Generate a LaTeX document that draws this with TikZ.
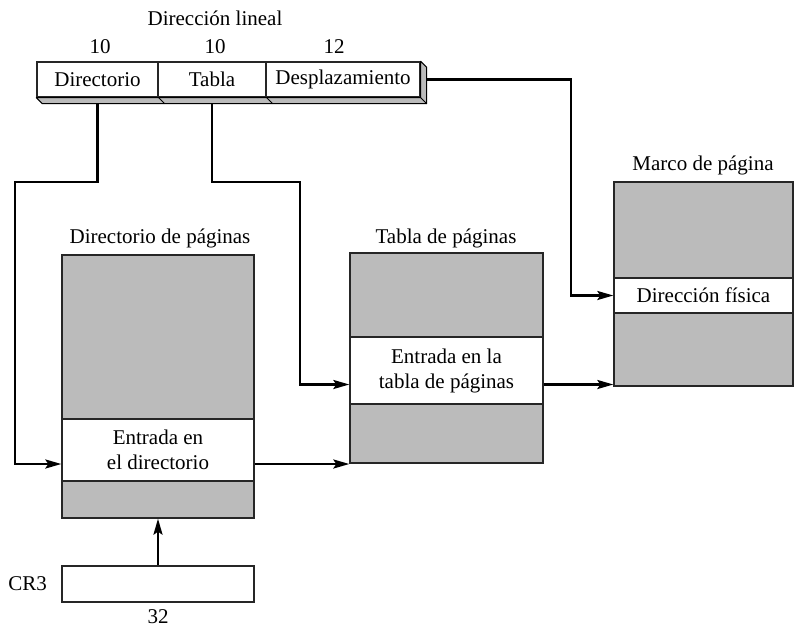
\documentclass[tikz,border=0pt]{standalone}
\usepackage{fontspec}
\setmainfont{Liberation Serif}
\usetikzlibrary{arrows.meta,calc}
\pgfdeclarelayer{background}
\pgfsetlayers{background,main}
\begin{document}
\begin{tikzpicture}[x=1pt,y=-1pt,
  every node/.style={font=\fontsize{21}{25}\selectfont},
  graybox/.style={draw=black!85,line width=1.3pt,fill=gray!55,inner sep=0pt},
  whitebox/.style={draw=black!85,line width=1.3pt,fill=white,inner sep=0pt,align=center},
  conn/.style={line width=2.5pt,-{Stealth[length=16pt,width=9pt,inset=3pt]}},
  lbl/.style={inner sep=0pt}
]
\useasboundingbox (0,0) rectangle (795,627);
\definecolor{shade}{RGB}{187,187,187}
\tikzset{graybox/.append style={fill=shade}}

% linear address
\node[lbl] (tlin) at (215,18) {Dirección lineal};
\node[whitebox,minimum width=121pt,minimum height=35pt] (seg1) at (97.5,79.5) {Directorio};
\node[whitebox,minimum width=108pt,minimum height=35pt] (seg2) at (212,79.5) {Tabla};
\node[whitebox,minimum width=154pt,minimum height=35pt] (seg3) at (343,79.5) {Desplazamiento};
\node[lbl] (n1) at (100,47) {10};
\node[lbl] (n2) at (215,47) {10};
\node[lbl] (n3) at (334,47) {12};
% 3D shadow
\draw[line width=1pt,fill=shade,line join=round] (seg1.south west) -- ++(6,6) -- ($(seg3.south east)+(6,6)$) -- ($(seg3.north east)+(6,6)$) -- (seg3.north east) -- (seg3.south east) -- cycle;
\draw[line width=1pt] (seg3.south east) -- ++(6,6);
\draw[line width=1pt] (seg1.south east) -- ++(6,6);
\draw[line width=1pt] (seg2.south east) -- ++(6,6);

% page directory
\node[graybox,minimum width=192pt,minimum height=263pt] (pdir) at (158,386.5) {};
\node[whitebox,minimum width=192pt,minimum height=62pt] (pdirE) at (158,450) {Entrada en\\el directorio};
\node[lbl] (tdir) at (160,238) {Directorio de páginas};

% page table
\node[graybox,minimum width=193pt,minimum height=210pt] (ptab) at (446.5,358) {};
\node[whitebox,minimum width=193pt,minimum height=67pt] (ptabE) at (446.5,370.5) {Entrada en la\\tabla de páginas};
\node[lbl] (ttab) at (446,238) {Tabla de páginas};

% page frame
\node[graybox,minimum width=179pt,minimum height=204pt] (frame) at (703.5,284) {};
\node[whitebox,minimum width=179pt,minimum height=35pt] (frameE) at (703.5,295.5) {Dirección física};
\node[lbl] (tfr) at (703,165) {Marco de página};

% CR3
\node[whitebox,minimum width=192pt,minimum height=36pt] (cr3) at (158,584) {};
\node[lbl,anchor=east] (tcr3) at (47,584) {CR3};
\node[lbl] (t32) at (158,617) {32};

% connectors
\begin{pgfonlayer}{background}
\draw[conn] (seg1.south) |- (15,182) |- ([yshift=-14pt]pdirE.west);
\draw[conn] (seg2.south) |- (300,182) |- ([yshift=-14pt]ptabE.west);
\draw[conn] (seg3.east) -| (571,0 |- frameE.west) -- (frameE.west);
\end{pgfonlayer}
\draw[conn] ([yshift=-14pt]pdirE.east) -- ([yshift=-14pt]pdirE.east -| ptab.west);
\draw[conn] ([yshift=-14pt]ptabE.east) -- ([yshift=-14pt]ptabE.east -| frame.west);
\draw[conn] (cr3.north) -- (pdir.south);
\end{tikzpicture}
\end{document}
